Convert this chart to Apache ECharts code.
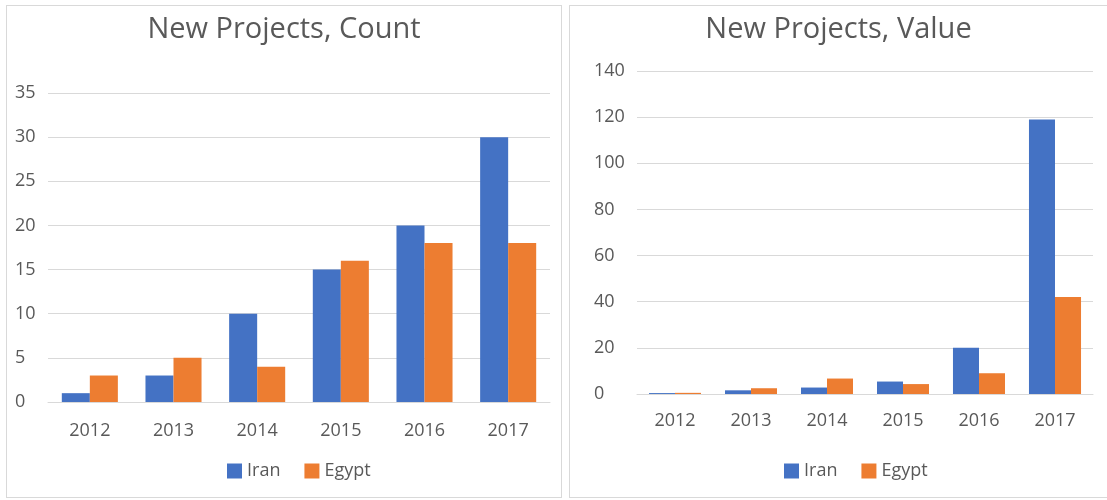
<!DOCTYPE html>
<html><head><meta charset="utf-8">
<script src="https://cdn.jsdelivr.net/npm/echarts@6/dist/echarts.min.js"></script>
<style>
body{margin:0;background:#fff;width:1107px;height:500px;position:relative;overflow:hidden}
.c{position:absolute}
.b{position:absolute;border:1px solid #d9d9d9;box-sizing:border-box;pointer-events:none}
</style></head><body>
<div id="c1" class="c" style="left:7px;top:6px;width:554px;height:491px"></div>
<div id="c2" class="c" style="left:570px;top:6px;width:537px;height:491px"></div>
<div class="b" style="left:6px;top:5px;width:556px;height:493px"></div>
<div class="b" style="left:569px;top:5px;width:540px;height:493px"></div>
<script>
const years = ['2012','2013','2014','2015','2016','2017'];
const countIran = [1,3,10,15,20,30];
const countEgypt = [3,5,4,16,18,18];
const valueIran = [0.4,1.6,2.8,5.4,20,119];
const valueEgypt = [0.5,2.5,6.7,4.3,9,42];
const font = '"Open Sans", "Noto Sans", sans-serif';
function opt(title, iran, egypt, max, interval, grid, ylMargin, xlMargin, legendLeft, gap){
  return {
    animation:false,
    textStyle:{fontFamily:font},
    title:{text:title,left:'center',top:4,textStyle:{fontFamily:font,fontSize:29,fontWeight:'normal',color:'#595959'}},
    legend:{top:451,left:legendLeft,itemWidth:15,itemHeight:15,itemGap:24,icon:'rect',
      textStyle:{fontFamily:font,fontSize:18,color:'#595959'},data:['Iran','Egypt']},
    grid:grid,
    xAxis:{type:'category',data:years,axisTick:{show:false},
      axisLine:{lineStyle:{color:'#d9d9d9'}},
      axisLabel:{color:'#595959',fontSize:18,margin:xlMargin}},
    yAxis:{type:'value',min:0,max:max,interval:interval,
      axisLabel:{color:'#595959',fontSize:18,margin:ylMargin,align:'left'},
      splitLine:{lineStyle:{color:'#d9d9d9'}},axisLine:{show:false}},
    series:[
      {name:'Iran',type:'bar',data:iran,itemStyle:{color:'#4472C4'},barGap:'0%',barCategoryGap:gap},
      {name:'Egypt',type:'bar',data:egypt,itemStyle:{color:'#ED7D31'},barGap:'0%',barCategoryGap:gap}
    ]
  };
}
echarts.init(document.getElementById('c1')).setOption(opt('New Projects, Count',countIran,countEgypt,35,5,{left:41,right:11,top:87,bottom:95},33,20,215,'33%'));
echarts.init(document.getElementById('c2')).setOption(opt('New Projects, Value',valueIran,valueEgypt,140,20,{left:67,right:14,top:65,bottom:103},43,18,209,'31.5%'));
</script></body></html>
